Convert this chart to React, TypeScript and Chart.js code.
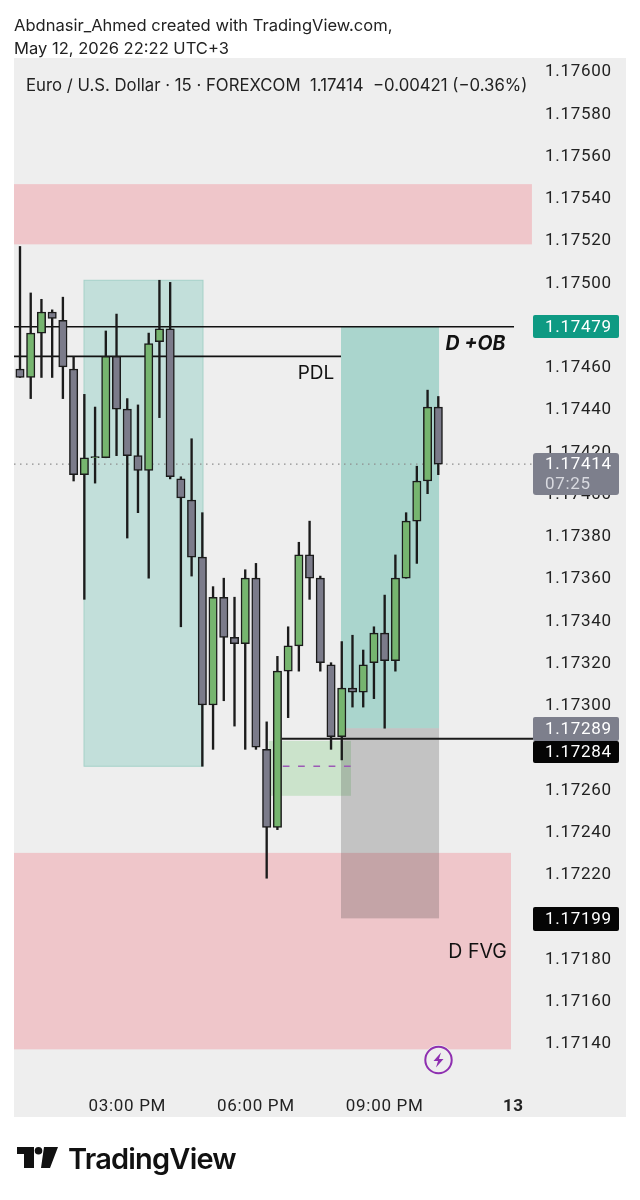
import React, { useEffect, useRef } from "react";
import { Chart, registerables } from "chart.js";

Chart.register(...registerables);

const opens = [1.17459,1.17455,1.17476,1.17486,1.17482,1.17459,1.17409,1.17417,1.17417,1.17465,1.1744,1.17418,1.17411,1.17472,1.17478,1.17407,1.17397,1.1737,1.173,1.17351,1.17332,1.17329,1.1736,1.17279,1.17242,1.17316,1.17328,1.17371,1.1736,1.17319,1.17285,1.17308,1.17306,1.1732,1.17334,1.17321,1.1736,1.17387,1.17406,1.17441];
const highs = [1.17517,1.17495,1.17492,1.17487,1.17493,1.17465,1.17447,1.17441,1.17477,1.17485,1.17445,1.17442,1.17476,1.17501,1.175,1.17408,1.17426,1.17391,1.17356,1.1736,1.17351,1.17364,1.17367,1.17292,1.17323,1.17337,1.17377,1.17387,1.17361,1.1732,1.1733,1.17333,1.17326,1.17337,1.17352,1.17371,1.17391,1.17413,1.17449,1.17446];
const lows = [1.17455,1.17445,1.17455,1.17455,1.17445,1.17406,1.1735,1.17405,1.17417,1.17418,1.17379,1.17391,1.1736,1.17436,1.17407,1.17337,1.17361,1.17271,1.17279,1.17302,1.1729,1.17279,1.17279,1.17218,1.17241,1.17294,1.17316,1.1735,1.17316,1.17279,1.17274,1.17299,1.17299,1.17303,1.17289,1.17316,1.1736,1.17367,1.174,1.17409];
const closes = [1.17455,1.17476,1.17486,1.17483,1.1746,1.17409,1.17417,1.174175,1.17465,1.1744,1.17418,1.17411,1.17471,1.17478,1.17408,1.17398,1.1737,1.173,1.17351,1.17332,1.17329,1.1736,1.1728,1.17242,1.17316,1.17328,1.17371,1.1736,1.1732,1.17285,1.17308,1.17306,1.17319,1.17334,1.17321,1.1736,1.17387,1.17406,1.17441,1.17414];

const priceTicks = [1.176,1.1758,1.1756,1.1754,1.1752,1.175,1.1748,1.1746,1.1744,1.1742,1.174,1.1738,1.1736,1.1734,1.1732,1.173,1.1728,1.1726,1.1724,1.1722,1.172,1.1718,1.1716,1.1714];
const timeTickIndex = [10, 22, 34, 46];
const timeTickLabels = ["03:00 PM", "06:00 PM", "09:00 PM", "13"];

const X_MIN = -0.559;
const X_MAX = 47.83;

// [x from, x to, price top, price bottom]
const pinkTop = [X_MIN, 47.73, 1.175465, 1.17518];
const pinkBottom = [X_MIN, 45.78, 1.1723, 1.17137];
const tealLeft = [5.97, 17.06, 1.17501, 1.17271];
const tealRight = [29.93, 39.07, 1.17479, 1.17289];
const grayBox = [29.93, 39.07, 1.17289, 1.17199];
const greenBox = [23.2, 30.86, 1.17283, 1.17257];

// [price, x from, x to]
const lineOB = [1.17479, X_MIN, 46.06];
const linePDL = [1.17465, X_MIN, 29.93];
const lineFVG = [1.17284, 24.4, X_MAX];
const lineMid = [1.17271, 24.5, 30.86];
const lineLast = [1.17414, X_MIN, X_MAX];

const annotationText = ["PDL", "D +OB", "D FVG"];
const annotationX = [27.6, 42.47, 42.66];
const annotationPrice = [1.17457, 1.17471, 1.17183];
const annotationFont = ["19px Inter", "italic 700 19.5px Inter", "19.5px Inter"];

const badgeText = ["1.17479", "1.17289", "1.17284", "1.17199"];
const badgeColor = ["#0e9a83", "#7d7f8c", "#050505", "#050505"];
const badgeTop = [315, 717, 741, 907];
const badgeBottom = [338, 741, 763, 931];

const legendText = "Euro / U.S. Dollar · 15 · FOREXCOM  1.17414  −0.00421 (−0.36%)";

const LABEL_FONT = "17px Roboto";
const INK = "#1b1b1b";
const UP = "#76b56f";
const DOWN = "#7b7b8a";

const roundBox = (c: CanvasRenderingContext2D, x: number, y: number, w: number, h: number, r: number, fill: string) => {
  c.fillStyle = fill;
  c.beginPath();
  c.roundRect(x, y, w, h, r);
  c.fill();
};

const drawingPlugin = {
  id: "drawing",
  beforeDraw(chart: any) {
    const c = chart.ctx;
    c.save();
    c.fillStyle = "#ffffff";
    c.fillRect(0, 0, chart.width, chart.height);
    c.fillStyle = "#eeeeee";
    c.fillRect(14, 58, 612, 1059);
    c.restore();
    c.letterSpacing = "0.7px";
  },
  beforeDatasetsDraw(chart: any) {
    const c = chart.ctx;
    const { x, y } = chart.scales;
    const zone = (z: number[], fill: string, stroke?: string) => {
      const l = x.getPixelForValue(z[0]);
      const r = x.getPixelForValue(z[1]);
      const t = y.getPixelForValue(z[2]);
      const b = y.getPixelForValue(z[3]);
      c.fillStyle = fill;
      c.fillRect(l, t, r - l, b - t);
      if (stroke) {
        c.strokeStyle = stroke;
        c.lineWidth = 1;
        c.strokeRect(l, t, r - l, b - t);
      }
    };
    c.save();
    zone(pinkTop, "#efc6ca");
    zone(pinkBottom, "#efc6ca");
    zone(tealLeft, "#c2dfda", "#a5d1c9");
    zone(tealRight, "#aad5cd");
    zone(greenBox, "#cbe3cb");
    zone(grayBox, "rgba(60,60,60,0.24)");
    c.restore();
  },
  afterDatasetsDraw(chart: any) {
    const c = chart.ctx;
    const { x, y } = chart.scales;
    c.save();
    c.letterSpacing = "0px";
    c.fillStyle = "#111111";
    c.textAlign = "center";
    c.textBaseline = "middle";
    annotationText.forEach((t, i) => {
      c.font = annotationFont[i];
      c.fillText(t, x.getPixelForValue(annotationX[i]), y.getPixelForValue(annotationPrice[i]));
    });
    c.restore();
  },
  afterDraw(chart: any) {
    const c = chart.ctx;
    c.save();
    c.textBaseline = "middle";
    c.textAlign = "left";
    c.letterSpacing = "0px";
    c.font = "16.75px Inter";
    c.fillStyle = "#222222";
    c.fillText(legendText, 26, 86);

    c.font = LABEL_FONT;
    c.letterSpacing = "0.7px";
    // current price badge over the axis labels
    roundBox(c, 533, 453, 86, 42, 3, "#7d7f8c");
    c.fillStyle = "#ffffff";
    c.fillText("1.17414", 545, 465);
    c.fillStyle = "#d9dae0";
    c.fillText("07:25", 545, 485);

    badgeText.forEach((t, i) => {
      roundBox(c, 533, badgeTop[i], 86, badgeBottom[i] - badgeTop[i], 2, badgeColor[i]);
      c.fillStyle = "#ffffff";
      c.fillText(t, 545, (badgeTop[i] + badgeBottom[i]) / 2 + 1);
    });

    // lightning marker
    const cx = 438.5;
    const cy = 1060;
    c.beginPath();
    c.arc(cx, cy, 15, 0, Math.PI * 2);
    c.fillStyle = "#eeeeee";
    c.fill();
    c.beginPath();
    c.arc(cx, cy, 13.2, 0, Math.PI * 2);
    c.strokeStyle = "#8e2fb0";
    c.lineWidth = 2;
    c.stroke();
    c.beginPath();
    c.moveTo(cx + 2.5, cy - 7.5);
    c.lineTo(cx - 5, cy + 1);
    c.lineTo(cx - 0.5, cy + 1);
    c.lineTo(cx - 2.5, cy + 7.5);
    c.lineTo(cx + 5, cy - 1);
    c.lineTo(cx + 0.5, cy - 1);
    c.closePath();
    c.fillStyle = "#8e2fb0";
    c.fill();
    c.restore();
  },
};

const hLine = (l: number[], color: string, width: number, dash: number[] = []) => ({
  type: "line" as const,
  data: [{ x: l[1], y: l[0] }, { x: l[2], y: l[0] }],
  borderColor: color,
  borderWidth: width,
  borderDash: dash,
  pointRadius: 0,
  order: 2,
});

export default function App() {
  const ref = useRef<HTMLCanvasElement>(null);
  useEffect(() => {
    const chart = new Chart(ref.current as HTMLCanvasElement, {
      type: "bar",
      data: {
        datasets: [
          {
            data: opens.map((o, i) => ({ x: i, y: [o, closes[i]] })),
            backgroundColor: opens.map((o, i) => (closes[i] >= o ? UP : DOWN)),
            borderColor: INK,
            borderWidth: 1.5,
            borderSkipped: false,
            barThickness: 8.4,
            grouped: false,
            order: 0,
          },
          {
            data: lows.map((l, i) => ({ x: i, y: [l, highs[i]] })),
            backgroundColor: INK,
            borderWidth: 0,
            barThickness: 1.7,
            grouped: false,
            order: 1,
          },
          hLine(lineOB, "#111111", 1.7),
          hLine(linePDL, "#111111", 1.7),
          hLine(lineFVG, "#1a1a1a", 2),
          hLine(lineMid, "#9c5ab5", 1.6, [6.7, 8.6]),
          hLine(lineLast, "#8d8d8d", 1.2, [1.5, 4.5]),
        ] as any,
      },
      options: {
        animation: false,
        responsive: false,
        layout: { padding: { left: 14, top: 58, right: 14, bottom: 83 } },
        plugins: { legend: { display: false }, tooltip: { enabled: false }, title: { display: false } },
        scales: {
          x: {
            type: "linear",
            offset: false,
            min: X_MIN,
            max: X_MAX,
            border: { display: false },
            grid: { display: false, offset: false },
            afterBuildTicks: (s: any) => {
              s.ticks = timeTickIndex.map((v) => ({ value: v }));
            },
            afterFit: (s: any) => {
              s.height = 37;
            },
            ticks: {
              autoSkip: false,
              maxRotation: 0,
              padding: 9,
              color: "#222222",
              font: (ctx: any) =>
                ctx.tick && ctx.tick.value === 46
                  ? { family: "Roboto", size: 17, weight: "bold" }
                  : { family: "Roboto", size: 17 },
              callback: (v: any) => timeTickLabels[timeTickIndex.indexOf(v)],
            },
          },
          y: {
            type: "linear",
            position: "right",
            min: 1.171225,
            max: 1.176062,
            border: { display: false },
            grid: { display: false },
            afterBuildTicks: (s: any) => {
              s.ticks = priceTicks.map((v) => ({ value: v }));
            },
            afterFit: (s: any) => {
              s.width = 93;
            },
            ticks: {
              autoSkip: false,
              padding: 4,
              labelOffset: 1,
              color: "#222222",
              font: { family: "Roboto", size: 17 },
              callback: (v: any) => Number(v).toFixed(5),
            },
          },
        },
      } as any,
      plugins: [drawingPlugin],
    });
    return () => chart.destroy();
  }, []);

  const text: React.CSSProperties = {
    position: "absolute",
    left: 14,
    fontFamily: "Inter",
    fontSize: 16.55,
    color: "#222",
    whiteSpace: "nowrap",
    lineHeight: "20px",
  };

  return (
    <div style={{ position: "absolute", left: 0, top: 0, width: 640, height: 1200 }}>
      <canvas ref={ref} width={640} height={1200} style={{ display: "block" }} />
      <div style={{ ...text, top: 15 }}>Abdnasir_Ahmed created with TradingView.com,</div>
      <div style={{ ...text, top: 38 }}>May 12, 2026 22:22 UTC+3</div>
      <svg style={{ position: "absolute", left: 0, top: 1140 }} width={70} height={40}>
        <path d="M17 7H34V28H24V14H17Z M44 7H58L50 28H41Z" fill="#111" />
        <circle cx={38.5} cy={10.8} r={3.8} fill="#111" />
      </svg>
      <div style={{ ...text, left: 68, top: 1143, fontSize: 29, fontWeight: 600, letterSpacing: -0.8, lineHeight: "32px", color: "#111" }}>
        TradingView
      </div>
    </div>
  );
}
